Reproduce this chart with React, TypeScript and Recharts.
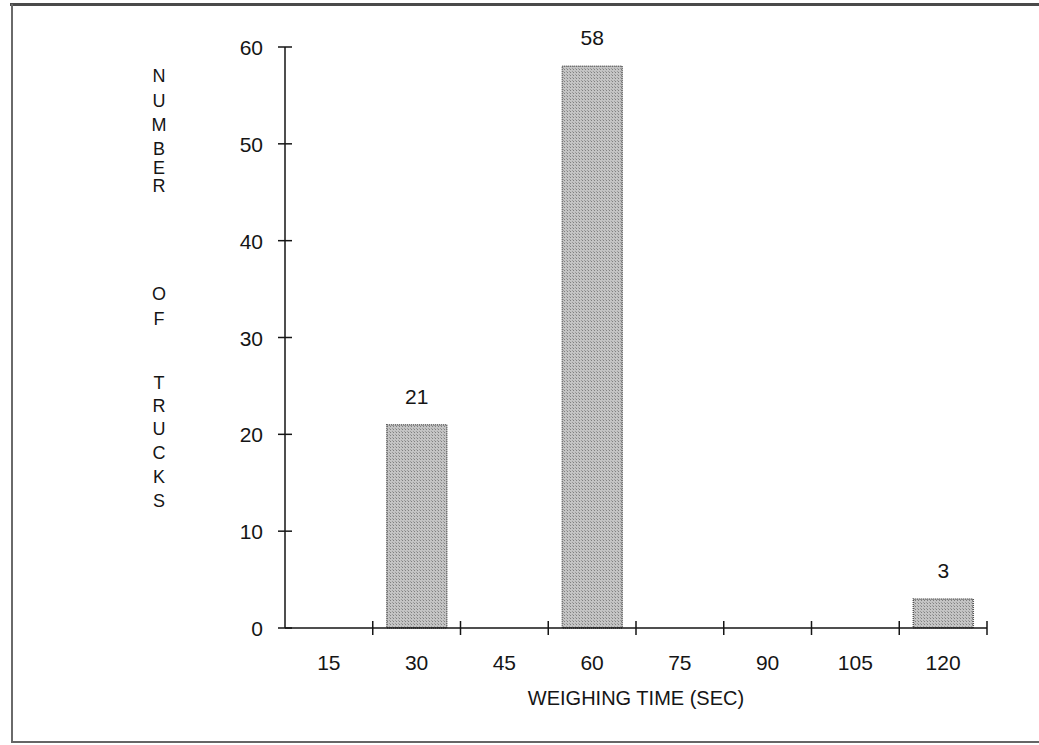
import React from 'react';
import { BarChart, Bar, XAxis, YAxis, LabelList, Label } from 'recharts';

const weighingTimes = ['15', '30', '45', '60', '75', '90', '105', '120'];
const truckCounts = [0, 21, 0, 58, 0, 0, 0, 3];
const countTicks = [0, 10, 20, 30, 40, 50, 60];
const yTitle = 'NUMBER OF TRUCKS';
const xTitle = 'WEIGHING TIME (SEC)';

const data = weighingTimes.map((t, i) => ({ time: t, trucks: truckCounts[i] }));

const FONT = '"Liberation Sans", Arial, sans-serif';
const INK = '#151515';

// y ticks cross the axis line on both sides
const YTick = (props: any) => {
  const { x, y, payload } = props;
  const axisX = x + 8;
  return (
    <g>
      <line x1={axisX - 7} x2={axisX + 7} y1={y} y2={y} stroke={INK} strokeWidth={1.5} />
      <text x={axisX - 22} y={y + 8} textAnchor="end" fontFamily={FONT} fontSize={21} fill={INK}>
        {payload.value}
      </text>
    </g>
  );
};

// x ticks sit on the band boundaries, labels in the band centre
const XTick = (props: any) => {
  const { x, y, payload } = props;
  const axisY = y - 8;
  const half = payload.offset || 43.9;
  const bx = x + half;
  return (
    <g>
      <line x1={bx} x2={bx} y1={axisY - 7} y2={axisY + 7} stroke={INK} strokeWidth={1.5} />
      <text x={x} y={axisY + 42} textAnchor="middle" fontFamily={FONT} fontSize={21} fill={INK}>
        {payload.value}
      </text>
    </g>
  );
};

// stacked letters, spaced like the original (B-E-R squeezed together)
const letterRows = [0, 24.5, 49, 73, 92, 110, 218, 243, 307, 330, 353, 377, 401, 425];

const YTitle = (props: any) => {
  const { viewBox } = props;
  const letters = yTitle.replace(/ /g, '').split('');
  const cx = viewBox.x - 66;
  return (
    <g>
      {letters.map((ch, i) => (
        <text
          key={i}
          x={cx}
          y={82 + letterRows[i]}
          textAnchor="middle"
          fontFamily={FONT}
          fontSize={18}
          fill={INK}
        >
          {ch}
        </text>
      ))}
    </g>
  );
};

const XTitle = (props: any) => {
  const { viewBox } = props;
  return (
    <text
      x={viewBox.x + viewBox.width / 2}
      y={viewBox.y + 77}
      textAnchor="middle"
      fontFamily={FONT}
      fontSize={20}
      fill={INK}
    >
      {xTitle}
    </text>
  );
};

export default function App() {
  return (
    <div style={{ width: 1039, height: 745, overflow: 'hidden' }}>
      <style>{'body { margin: 0; }'}</style>
      <BarChart
        width={1039}
        height={745}
        data={data}
        margin={{ top: 47, right: 52, bottom: 57, left: 225 }}
        barCategoryGap="16%"
      >
        <defs>
          <pattern id="stipple" width="3" height="3" patternUnits="userSpaceOnUse">
            <rect width="3" height="3" fill="#c4c4c4" />
            <rect width="1" height="1" fill="#808080" />
            <rect x="2" y="2" width="1" height="1" fill="#9c9c9c" />
          </pattern>
        </defs>
        {/* scanned page frame */}
        <rect x={10} y={3} width={1029} height={3} fill="#4a4a4a" />
        <rect x={11} y={4} width={2} height={739} fill="#6a6a6a" />
        <rect x={11} y={741} width={1028} height={2} fill="#666" />
        <XAxis
          dataKey="time"
          height={60}
          axisLine={{ stroke: INK, strokeWidth: 1.5 }}
          tickLine={false}
          tick={<XTick />}
          interval={0}
        >
          <Label content={<XTitle />} />
        </XAxis>
        <YAxis
          width={60}
          domain={[0, 60]}
          ticks={countTicks}
          axisLine={{ stroke: INK, strokeWidth: 1.5 }}
          tickLine={false}
          tick={<YTick />}
          interval={0}
        >
          <Label content={<YTitle />} />
        </YAxis>
        <Bar
          dataKey="trucks"
          fill="url(#stipple)"
          stroke="#555"
          strokeWidth={1.5}
          strokeDasharray="1 1"
          isAnimationActive={false}
        >
          <LabelList
            dataKey="trucks"
            position="top"
            offset={21}
            formatter={(v: any) => (v ? v : '')}
            style={{ fontFamily: FONT, fontSize: 21, fill: INK }}
          />
        </Bar>
      </BarChart>
    </div>
  );
}
